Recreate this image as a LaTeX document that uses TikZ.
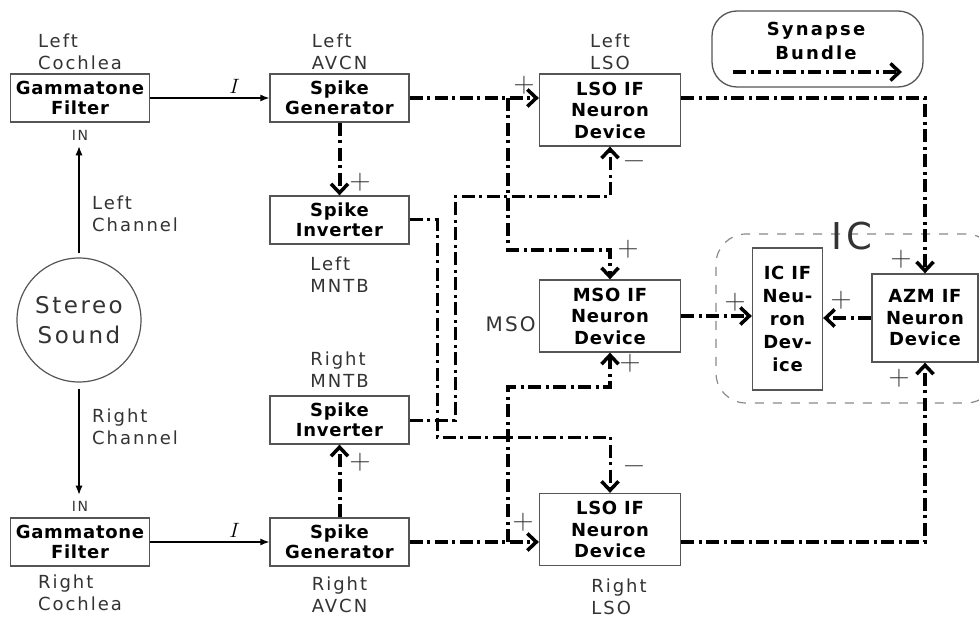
\documentclass[tikz,border=0pt]{standalone}
\usepackage{fontspec}
\usepackage{xcolor}
\usepackage{tikz}
\usetikzlibrary{arrows.meta}
\usetikzlibrary{positioning, calc}
\newfontfamily\lblfont[LetterSpace=11]{DejaVu Sans}
\newfontfamily\boxfont[LetterSpace=4]{DejaVu Sans}
\newfontfamily\legfont[LetterSpace=12]{DejaVu Sans}
\definecolor{boxgray}{HTML}{555555}
\definecolor{lblgray}{HTML}{333333}
\definecolor{framegray}{HTML}{8A8A8A}
\tikzset{
  blk/.style={draw=boxgray, line width=1.3pt, fill=white, align=center, inner sep=0pt,
    font=\boxfont\bfseries\fontsize{18}{20}\selectfont},
  gen/.style={blk, minimum width=139pt, minimum height=48pt},
  neuron/.style={blk, minimum width=141pt, minimum height=72pt,
    font=\boxfont\bfseries\fontsize{18}{21.5}\selectfont},
  lbl/.style={font=\lblfont\fontsize{18}{22}\selectfont, text=lblgray, align=left, inner sep=0pt},
  sgn/.style={font=\rmfamily\fontsize{29}{29}\selectfont, text=lblgray, inner sep=0pt},
  exc/.style={line width=4pt, dash pattern=on 13pt off 4.5pt on 3pt off 4.5pt,
    -{Straight Barb[length=9pt,width=17pt,line width=3.5pt]}},
  inh/.style={exc, line width=3pt},
  wire/.style={line width=1.2pt, -{Latex[length=9pt,width=7pt]}},
}
\begin{document}
\begin{tikzpicture}[x=1pt,y=-1pt]
\fill[white] (0,0) rectangle (979,617);
\useasboundingbox (0,0) rectangle (979,617);

% IC group frame
\node[draw=framegray, line width=1.2pt, dash pattern=on 9pt off 9pt, rounded corners=30pt,
  minimum width=280pt, minimum height=169pt] (icgrp) at (856,318.5) {};
\node[font=\lblfont\fontsize{37}{37}\selectfont, text=lblgray, inner sep=0pt] (iclbl) at (852,236) {IC};

% blocks
\node[gen] (gtL) at (80,98) {Gammatone\\Filter};
\node[gen] (genL) at (339.5,98) {Spike\\Generator};
\node[gen] (invL) at (339.5,220) {Spike\\Inverter};
\node[gen] (invR) at (339.5,420) {Spike\\Inverter};
\node[gen] (genR) at (339.5,542) {Spike\\Generator};
\node[gen] (gtR) at (80,542) {Gammatone\\Filter};
\node[neuron] (lsoL) at (610,110) {LSO IF\\Neuron\\Device};
\node[neuron] (mso) at (610,316) {MSO IF\\Neuron\\Device};
\node[neuron] (lsoR) at (610,529.5) {LSO IF\\Neuron\\Device};
\node[blk, minimum width=70pt, minimum height=142pt,
  font=\boxfont\bfseries\fontsize{18}{23}\selectfont] (ic) at (787.5,319) {IC IF\\Neu-\\ron\\Dev-\\ice};
\node[neuron, minimum width=106pt, minimum height=88pt] (azm) at (925,318) {AZM IF\\Neuron\\Device};
\node[draw=boxgray, line width=1.2pt, circle, minimum size=124pt, align=center, text=lblgray,
  font=\lblfont\fontsize{23}{30}\selectfont] (sound) at (79,320) {Stereo\\Sound};

% labels
\node[lbl, above=3pt of gtL] (cochL) {Left\\Cochlea};
\node[lbl, above=3pt of genL] (avcnL) {Left\\AVCN};
\node[lbl, above=3pt of lsoL] (lsoLl) {Left\\LSO};
\node[lbl, below=12pt of invL] (mntbL) {Left\\MNTB};
\node[lbl, above=8pt of invR] (mntbR) {Right\\MNTB};
\node[lbl, below=10pt of genR] (avcnR) {Right\\AVCN};
\node[lbl, below=8pt of gtR] (cochR) {Right\\Cochlea};
\node[lbl, below=12pt of lsoR, xshift=9pt] (lsoRl) {Right\\LSO};
\node[lbl, anchor=north west] (chL) at (92,196) {Left\\Channel};
\node[lbl, anchor=north west] (chR) at (92,409) {Right\\Channel};
\node[lbl, left=3pt of mso, yshift=-8pt, font=\lblfont\fontsize{20}{24}\selectfont] (msoL) {MSO};
\node[lbl, below=7pt of gtL, font=\lblfont\fontsize{14}{14}\selectfont] (inL) {IN};
\node[lbl, above=6pt of gtR, font=\lblfont\fontsize{14}{14}\selectfont] (inR) {IN};

% legend
\node[draw=boxgray, line width=1.3pt, rounded corners=25pt, minimum width=211pt,
  minimum height=76pt] (leg) at (817.5,49) {};
\node[font=\legfont\bfseries\fontsize{18}{24}\selectfont, align=center, inner sep=0pt] (legtxt) at (816,41) {Synapse\\Bundle};
\coordinate (lg1) at (733,72);
\coordinate (lg2) at (902,72);
\draw[exc] (lg1) -- (lg2);

% audio paths
\draw[wire, shorten >=6pt] ([yshift=4pt]sound.north) -- (sound.north |- inL.south);
\draw[wire, shorten >=6pt] ([yshift=-6pt]sound.south) -- (sound.south |- inR.north);
\draw[wire] (gtL.east) -- node[pos=0.71, above=4pt, inner sep=0pt, font=\fontsize{20}{20}\selectfont] (iL) {$I$} (genL.west);
\draw[wire] (gtR.east) -- node[pos=0.71, above=4pt, inner sep=0pt, font=\fontsize{20}{20}\selectfont] (iR) {$I$} (genR.west);

% synapse bundles
\coordinate (jL) at (508,98);
\coordinate (kL) at (508,250);
\coordinate (jR) at (508,542);
\coordinate (kR) at (508,387);
\coordinate (cL) at (437,437);
\coordinate (cR) at (455,197);
\draw[exc] (genL.east) -- (genL.east -| lsoL.west);
\draw[exc] (jL) -- (kL) -| (mso.north);
\draw[exc] (genL.south) -- (invL.north);
\draw[inh] (invL.east) -| (cL) -| (lsoR.north);
\draw[inh] (invR.east) -| (cR) -| (lsoL.south);
\draw[exc] (genR.north) -- (invR.south);
\draw[exc] (genR.east) -- (genR.east -| lsoR.west);
\draw[exc] (jR) -- (kR) -| (mso.south);
\draw[exc] (mso.east) -- (mso.east -| ic.west);
\draw[exc] (azm.west) -- (azm.west -| ic.east);
\draw[exc] (lsoL.east |- genL.east) -| (azm.north);
\draw[exc] (lsoR.east |- genR.east) -| (azm.south);

% signs
\foreach \px/\py/\s [count=\k] in {524/85/+, 360/182/+, 634/165/−, 628/249/+, 630/363/+,
    360/462/+, 634/470/−, 523/522/+, 735/302/+, 841/300/+, 901/259/+, 899/378/+}
  \node[sgn] (sg\k) at (\px,\py) {\s};
\end{tikzpicture}
\end{document}
